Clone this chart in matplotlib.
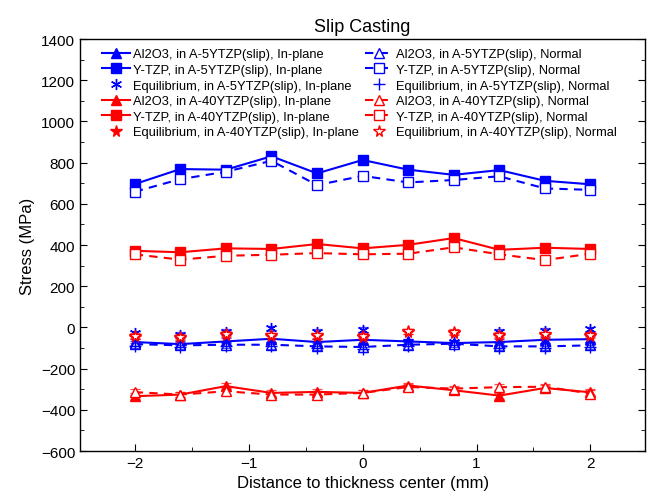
import matplotlib
matplotlib.use("Agg")
import matplotlib.pyplot as plt
from matplotlib.ticker import MultipleLocator

plt.rcParams['font.family'] = ['Liberation Sans', 'DejaVu Sans']

# positions through thickness (mm)
x = [-2, -1.6, -1.2, -0.8, -0.4, 0, 0.4, 0.8, 1.2, 1.6, 2]

# A-5YTZP(slip)
al5_in = [-71, -81, -68, -55, -71, -60, -68, -76, -71, -60, -57]
ytzp5_in = [696, 769, 766, 831, 748, 813, 766, 741, 764, 712, 695]
eq5_in = [-27, -35, -20, -3, -20, -11, -70, -72, -20, -15, -8]
al5_nor = [-81, -87, -84, -84, -92, -95, -84, -79, -92, -92, -87]
ytzp5_nor = [659, 720, 756, 809, 691, 736, 704, 716, 734, 675, 668]
eq5_nor = [-88, -95, -90, -92, -100, -105, -92, -85, -98, -100, -95]

# A-40YTZP(slip)
al40_in = [-334, -326, -285, -318, -313, -318, -282, -305, -331, -294, -315]
ytzp40_in = [372, 365, 384, 381, 405, 384, 401, 434, 377, 387, 381]
eq40_in = [-45, -50, -35, -40, -42, -45, -22, -25, -40, -38, -40]
al40_nor = [-314, -326, -310, -326, -326, -318, -289, -297, -290, -288, -321]
ytzp40_nor = [355, 329, 348, 353, 361, 355, 358, 389, 355, 327, 358]
eq40_nor = [-40, -45, -30, -38, -38, -40, -18, -20, -35, -32, -35]

# measurement uncertainty (MPa)
err_al = [15, 14, 15, 14, 15, 15, 14, 15, 15, 14, 15]
err_ytzp = [10, 10, 11, 10, 10, 10, 11, 10, 10, 10, 10]
err_eq = [12, 12, 12, 12, 12, 12, 12, 12, 12, 12, 12]

B = '#0000ff'
R = '#ff0000'

series = [
    (al5_in, err_al, B, '-', '^', True, 'Al2O3, in A-5YTZP(slip), In-plane'),
    (ytzp5_in, err_ytzp, B, '-', 's', True, 'Y-TZP, in A-5YTZP(slip), In-plane'),
    (eq5_in, err_eq, B, 'none', (6, 2, 0), True, 'Equilibrium, in A-5YTZP(slip), In-plane'),
    (al40_in, err_al, R, '-', '^', True, 'Al2O3, in A-40YTZP(slip), In-plane'),
    (ytzp40_in, err_ytzp, R, '-', 's', True, 'Y-TZP, in A-40YTZP(slip), In-plane'),
    (eq40_in, err_eq, R, 'none', '*', True, 'Equilibrium, in A-40YTZP(slip), In-plane'),
    (al5_nor, err_al, B, '--', '^', False, 'Al2O3, in A-5YTZP(slip), Normal'),
    (ytzp5_nor, err_ytzp, B, '--', 's', False, 'Y-TZP, in A-5YTZP(slip), Normal'),
    (eq5_nor, err_eq, B, 'none', '+', False, 'Equilibrium, in A-5YTZP(slip), Normal'),
    (al40_nor, err_al, R, '--', '^', False, 'Al2O3, in A-40YTZP(slip), Normal'),
    (ytzp40_nor, err_ytzp, R, '--', 's', False, 'Y-TZP, in A-40YTZP(slip), Normal'),
    (eq40_nor, err_eq, R, 'none', '*', False, 'Equilibrium, in A-40YTZP(slip), Normal'),
]

fig = plt.figure(figsize=(6.51, 5.02), dpi=100)
ax = fig.add_axes([0.123, 0.0996, 0.868, 0.8205])

handles = []
for y, e, c, ls, m, filled, lab in series:
    ax.errorbar(x, y, yerr=e, fmt='none', ecolor=c, elinewidth=0.9,
                capsize=3.5, capthick=0.9, alpha=0.7)
    if m == '*':
        ms = 8.5
    elif m == '+' or m == (6, 2, 0):
        ms = 8
    else:
        ms = 6.5
    kw = dict(dashes=(4, 3)) if ls == '--' else {}
    line, = ax.plot(x, y, linestyle=ls, color=c, lw=1.5, marker=m,
                    markersize=ms, markeredgewidth=1.0,
                    markerfacecolor=c if filled else 'white',
                    markeredgecolor=c, label=lab, **kw)
    handles.append(line)

ax.set_xlim(-2.48, 2.48)
ax.set_ylim(-600, 1400)
ax.xaxis.set_major_locator(MultipleLocator(1))
ax.xaxis.set_minor_locator(MultipleLocator(0.5))
ax.yaxis.set_major_locator(MultipleLocator(200))
ax.yaxis.set_minor_locator(MultipleLocator(100))
ax.tick_params(which='both', direction='in', right=True, labelsize=11)
ax.tick_params(which='major', length=5)
ax.tick_params(which='minor', length=3)
for s in ax.spines.values():
    s.set_linewidth(1.0)

ax.set_xlabel('Distance to thickness center (mm)', fontsize=12)
ax.set_ylabel('Stress (MPa)', fontsize=12)
ax.set_title('Slip Casting', fontsize=13)

ax.legend(handles=handles, ncol=2, loc='upper left', frameon=False,
          fontsize=9.3, handlelength=2.2, handletextpad=0.2,
          columnspacing=0.5, labelspacing=0.28, borderaxespad=0.3,
          bbox_to_anchor=(0.022, 1.0))

fig.savefig('out.png', dpi=100)
